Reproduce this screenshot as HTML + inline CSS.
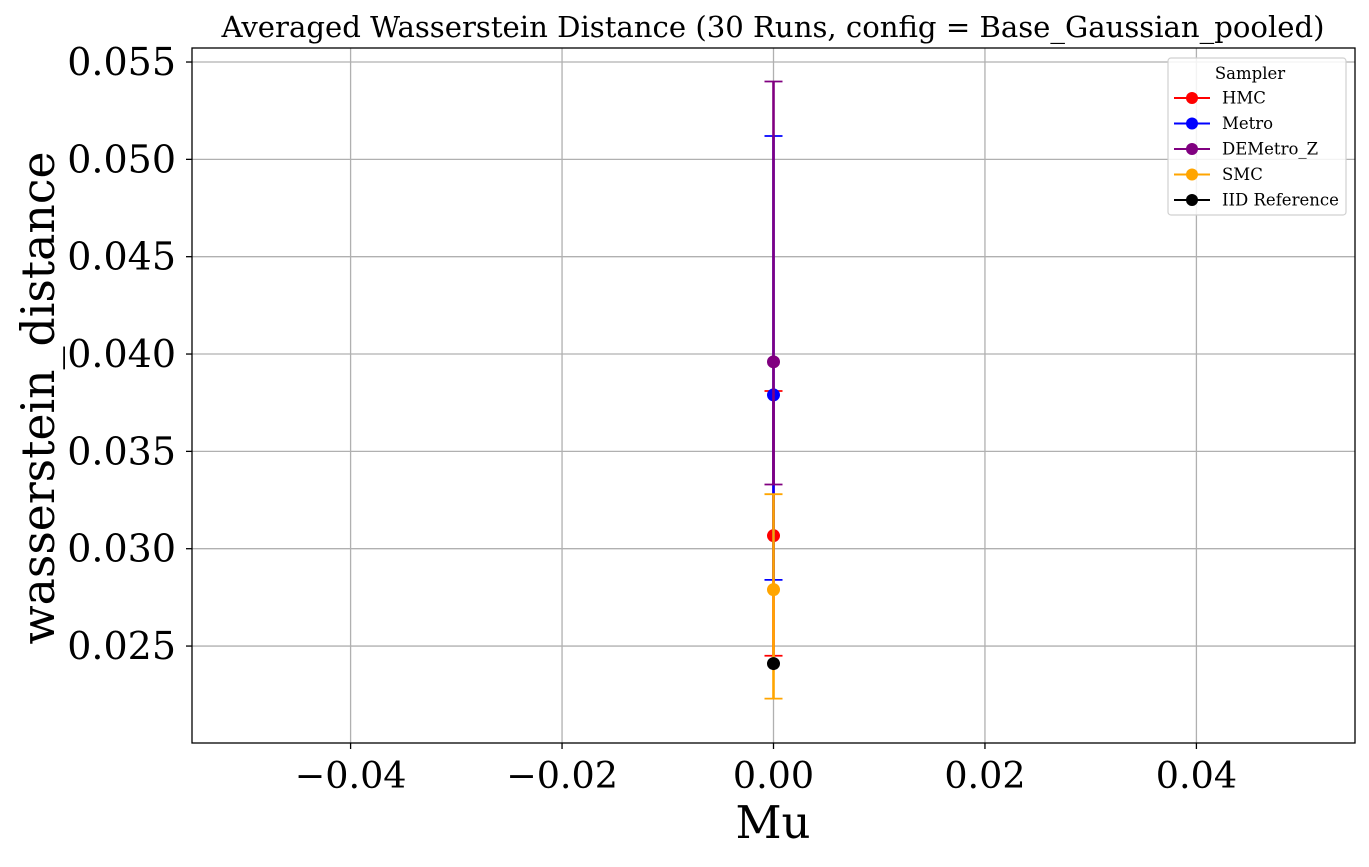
<!DOCTYPE html>
<html><head><meta charset="utf-8"><style>
body{margin:0;background:#fff}
svg{font-family:"DejaVu Serif","Liberation Serif",serif}
</style></head><body>
<svg id="chart" width="1369" height="862" xmlns="http://www.w3.org/2000/svg">
<rect width="1369" height="862" fill="#fff"/>
<text x="773" y="37" font-size="29" text-anchor="middle" textLength="1103" lengthAdjust="spacingAndGlyphs">Averaged Wasserstein Distance (30 Runs, config = Base_Gaussian_pooled)</text>
<g id="grid"></g>
<g id="xticks"></g>
<g id="yticks"></g>
<g id="marks"></g>
<rect x="192" y="48" width="1163" height="695" fill="none" stroke="#000" stroke-width="1.3"/>
<text x="773" y="838" font-size="45" text-anchor="middle">Mu</text>
<text transform="translate(54,398) rotate(-90)" font-size="46" text-anchor="middle" textLength="493" lengthAdjust="spacingAndGlyphs">wasserstein_distance</text>
<g id="legend"></g>
</svg>
<script>
const series = ["HMC","Metro","DEMetro_Z","SMC","IID Reference"];
const colors = ["#ff0000","#0000ff","#800080","#ffa500","#000000"];
const muValues = [0,0,0,0,0];
const means = [0.03067,0.0379,0.0396,0.0279,0.0241];
const lowers = [0.0245,0.0284,0.0333,0.0223,null];
const uppers = [0.0381,0.0512,0.0540,0.0328,null];
const xTicks = [-0.04,-0.02,0,0.02,0.04];
const xTickLabels = ["\u22120.04","\u22120.02","0.00","0.02","0.04"];
const yTicks = [0.025,0.030,0.035,0.040,0.045,0.050,0.055];
const yTickLabels = ["0.025","0.030","0.035","0.040","0.045","0.050","0.055"];

const NS="http://www.w3.org/2000/svg";
const X0=192,X1=1355,Y0=48,Y1=743;
const xmin=-0.055,xmax=0.055,ymin=0.02002,ymax=0.05572;
const sx=v=>X0+(v-xmin)/(xmax-xmin)*(X1-X0);
const sy=v=>Y1-(v-ymin)/(ymax-ymin)*(Y1-Y0);
function mk(tag,attrs,parent,txt){const e=document.createElementNS(NS,tag);for(const k in attrs)e.setAttribute(k,attrs[k]);if(txt!==undefined)e.textContent=txt;parent.appendChild(e);return e;}
const grid=document.getElementById('grid'),xt=document.getElementById('xticks'),yt=document.getElementById('yticks'),marks=document.getElementById('marks'),lg=document.getElementById('legend');
xTicks.forEach((t,i)=>{const x=sx(t);
 const g=mk('line',{x1:x,x2:x,y1:Y0,y2:Y1,stroke:'#b0b0b0','stroke-width':1.3},grid);
 
 mk('line',{x1:x,x2:x,y1:Y1,y2:Y1+6,stroke:'#000','stroke-width':1.3},xt);
 const l=mk('text',{x:x,y:Y1+45,'font-size':36.5,'text-anchor':'middle'},xt,xTickLabels[i]);
 });
yTicks.forEach((t,i)=>{const y=sy(t);
 const g=mk('line',{x1:X0,x2:X1,y1:y,y2:y,stroke:'#b0b0b0','stroke-width':1.3},grid);
 
 mk('line',{x1:X0-6,x2:X0,y1:y,y2:y,stroke:'#000','stroke-width':1.3},yt);
 const l=mk('text',{x:X0-16,y:y+13,'font-size':38,'text-anchor':'end'},yt,yTickLabels[i]);
 });
series.forEach((s,i)=>{const g=mk('g',{},marks);
 
 
 const x=sx(muValues[i]);
 if(lowers[i]!==null){
  mk('line',{x1:x,x2:x,y1:sy(lowers[i]),y2:sy(uppers[i]),stroke:colors[i],'stroke-width':2.6},g);
  [lowers[i],uppers[i]].forEach(v=>mk('line',{x1:x-9,x2:x+9,y1:sy(v),y2:sy(v),stroke:colors[i],'stroke-width':1.8},g));
 }
 const c=mk('circle',{cx:x,cy:sy(means[i]),r:6.5,fill:colors[i]},g);
 
 
});
mk('rect',{x:1168,y:58,width:178,height:157,rx:3,fill:'#fff','fill-opacity':0.85,stroke:'#d0d0d0','stroke-width':1.2},lg);
mk('text',{x:1250,y:79,'font-size':16.5,'text-anchor':'middle'},lg,'Sampler');
series.forEach((s,i)=>{const y=98+i*25.5;
 const e=mk('g',{},lg);
 
 
 mk('line',{x1:1174,x2:1210,y1:y,y2:y,stroke:colors[i],'stroke-width':2},e);
 mk('circle',{cx:1192,cy:y,r:6,fill:colors[i]},e);
 mk('text',{x:1222,y:y+5.5,'font-size':16.5},e,s);
});
</script>
</body></html>
